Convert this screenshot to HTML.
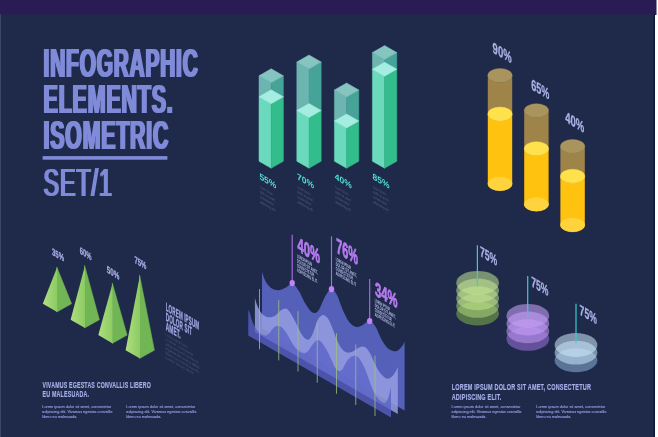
<!DOCTYPE html>
<html lang="en"><head><meta charset="utf-8"><title>Infographic Elements. Isometric Set/1</title>
<style>
html,body{margin:0;padding:0;background:#ffffff;}
body{width:658px;height:437px;overflow:hidden;}
svg{display:block;}
text{font-family:"Liberation Sans",sans-serif;}
.b{font-weight:bold;}
</style></head><body>
<svg width="658" height="437" viewBox="0 0 658 437">
<rect x="0" y="0" width="658" height="437" fill="#ffffff"/>
<rect x="0" y="0" width="656.5" height="15" fill="#2b1b54"/>
<rect x="0" y="14.3" width="655" height="423" fill="#1f2a4a"/>
<rect x="653.6" y="14.3" width="1.4" height="423" fill="#0d1238"/>
<rect x="0" y="14.3" width="1" height="423" fill="#3a4566"/>
<defs><filter id="fat" x="-5%" y="-5%" width="110%" height="110%"><feMorphology operator="dilate" radius="1 0"/></filter></defs>
<g filter="url(#fat)" letter-spacing="1.6">
<text transform="translate(43.60,77.20)" font-size="40.7" class="b" fill="#7f8ad9" textLength="155.00" lengthAdjust="spacingAndGlyphs">INFOGRAPHIC</text>
<text transform="translate(43.60,113.00)" font-size="40.84" class="b" fill="#7f8ad9" textLength="130.00" lengthAdjust="spacingAndGlyphs">ELEMENTS.</text>
<text transform="translate(43.60,148.60)" font-size="40.7" class="b" fill="#7f8ad9" textLength="125.60" lengthAdjust="spacingAndGlyphs">ISOMETRIC</text>
<text transform="translate(43.60,195.80)" font-size="39.68" fill="#7f8ad9" textLength="69.20" lengthAdjust="spacingAndGlyphs">SET/1</text>
</g>
<rect x="42.6" y="156.1" width="124.8" height="3.6" fill="#7f8ad9"/>
<polygon points="259.00,75.80 271.20,82.80 271.20,103.80 259.00,96.80" fill="#6db5b0" stroke="#6db5b0" stroke-width="0.5" stroke-linejoin="round"/>
<polygon points="283.40,75.80 271.20,82.80 271.20,103.80 283.40,96.80" fill="#45a398" stroke="#45a398" stroke-width="0.5" stroke-linejoin="round"/>
<polygon points="271.20,68.80 283.40,75.80 271.20,82.80 259.00,75.80" fill="#86c4c0" stroke="#86c4c0" stroke-width="0.5" stroke-linejoin="round"/>
<polygon points="259.00,96.80 271.20,103.80 271.20,168.20 259.00,161.20" fill="#6ad9bc" stroke="#6ad9bc" stroke-width="0.5" stroke-linejoin="round"/>
<polygon points="283.40,96.80 271.20,103.80 271.20,168.20 283.40,161.20" fill="#33bc8c" stroke="#33bc8c" stroke-width="0.5" stroke-linejoin="round"/>
<polygon points="271.20,89.80 283.40,96.80 271.20,103.80 259.00,96.80" fill="#a5ede0" stroke="#a5ede0" stroke-width="0.5" stroke-linejoin="round"/>
<polygon points="296.80,62.00 309.00,69.00 309.00,117.50 296.80,110.50" fill="#6db5b0" stroke="#6db5b0" stroke-width="0.5" stroke-linejoin="round"/>
<polygon points="321.20,62.00 309.00,69.00 309.00,117.50 321.20,110.50" fill="#45a398" stroke="#45a398" stroke-width="0.5" stroke-linejoin="round"/>
<polygon points="309.00,55.00 321.20,62.00 309.00,69.00 296.80,62.00" fill="#86c4c0" stroke="#86c4c0" stroke-width="0.5" stroke-linejoin="round"/>
<polygon points="296.80,110.50 309.00,117.50 309.00,168.20 296.80,161.20" fill="#6ad9bc" stroke="#6ad9bc" stroke-width="0.5" stroke-linejoin="round"/>
<polygon points="321.20,110.50 309.00,117.50 309.00,168.20 321.20,161.20" fill="#33bc8c" stroke="#33bc8c" stroke-width="0.5" stroke-linejoin="round"/>
<polygon points="309.00,103.50 321.20,110.50 309.00,117.50 296.80,110.50" fill="#a5ede0" stroke="#a5ede0" stroke-width="0.5" stroke-linejoin="round"/>
<polygon points="334.40,90.00 346.60,97.00 346.60,128.00 334.40,121.00" fill="#6db5b0" stroke="#6db5b0" stroke-width="0.5" stroke-linejoin="round"/>
<polygon points="358.80,90.00 346.60,97.00 346.60,128.00 358.80,121.00" fill="#45a398" stroke="#45a398" stroke-width="0.5" stroke-linejoin="round"/>
<polygon points="346.60,83.00 358.80,90.00 346.60,97.00 334.40,90.00" fill="#86c4c0" stroke="#86c4c0" stroke-width="0.5" stroke-linejoin="round"/>
<polygon points="334.40,121.00 346.60,128.00 346.60,168.20 334.40,161.20" fill="#6ad9bc" stroke="#6ad9bc" stroke-width="0.5" stroke-linejoin="round"/>
<polygon points="358.80,121.00 346.60,128.00 346.60,168.20 358.80,161.20" fill="#33bc8c" stroke="#33bc8c" stroke-width="0.5" stroke-linejoin="round"/>
<polygon points="346.60,114.00 358.80,121.00 346.60,128.00 334.40,121.00" fill="#a5ede0" stroke="#a5ede0" stroke-width="0.5" stroke-linejoin="round"/>
<polygon points="372.40,52.60 384.60,59.60 384.60,76.20 372.40,69.20" fill="#6db5b0" stroke="#6db5b0" stroke-width="0.5" stroke-linejoin="round"/>
<polygon points="396.80,52.60 384.60,59.60 384.60,76.20 396.80,69.20" fill="#45a398" stroke="#45a398" stroke-width="0.5" stroke-linejoin="round"/>
<polygon points="384.60,45.60 396.80,52.60 384.60,59.60 372.40,52.60" fill="#86c4c0" stroke="#86c4c0" stroke-width="0.5" stroke-linejoin="round"/>
<polygon points="372.40,69.20 384.60,76.20 384.60,168.20 372.40,161.20" fill="#6ad9bc" stroke="#6ad9bc" stroke-width="0.5" stroke-linejoin="round"/>
<polygon points="396.80,69.20 384.60,76.20 384.60,168.20 396.80,161.20" fill="#33bc8c" stroke="#33bc8c" stroke-width="0.5" stroke-linejoin="round"/>
<polygon points="384.60,62.20 396.80,69.20 384.60,76.20 372.40,69.20" fill="#a5ede0" stroke="#a5ede0" stroke-width="0.5" stroke-linejoin="round"/>
<text transform="matrix(1,0.5774,0,1,259.40,179.00)" font-size="8.8" class="b" fill="#52dcd6" textLength="17.00" lengthAdjust="spacingAndGlyphs">55%</text>
<text transform="matrix(1,0.5774,0,1,259.90,188.00)" font-size="3.6" fill="#56608a" textLength="13.00" lengthAdjust="spacingAndGlyphs">Lorem ipsum</text>
<text transform="matrix(1,0.5774,0,1,259.90,192.90)" font-size="3.6" fill="#56608a" textLength="16.00" lengthAdjust="spacingAndGlyphs">dolor sit amet,</text>
<text transform="matrix(1,0.5774,0,1,259.90,197.80)" font-size="3.6" fill="#56608a" textLength="14.00" lengthAdjust="spacingAndGlyphs">consectetur</text>
<text transform="matrix(1,0.5774,0,1,259.90,202.70)" font-size="3.6" fill="#56608a" textLength="16.00" lengthAdjust="spacingAndGlyphs">adipiscing elit.</text>
<text transform="matrix(1,0.5774,0,1,297.00,179.00)" font-size="8.8" class="b" fill="#52dcd6" textLength="17.00" lengthAdjust="spacingAndGlyphs">70%</text>
<text transform="matrix(1,0.5774,0,1,297.50,188.00)" font-size="3.6" fill="#56608a" textLength="13.00" lengthAdjust="spacingAndGlyphs">Lorem ipsum</text>
<text transform="matrix(1,0.5774,0,1,297.50,192.90)" font-size="3.6" fill="#56608a" textLength="16.00" lengthAdjust="spacingAndGlyphs">dolor sit amet,</text>
<text transform="matrix(1,0.5774,0,1,297.50,197.80)" font-size="3.6" fill="#56608a" textLength="14.00" lengthAdjust="spacingAndGlyphs">consectetur</text>
<text transform="matrix(1,0.5774,0,1,297.50,202.70)" font-size="3.6" fill="#56608a" textLength="16.00" lengthAdjust="spacingAndGlyphs">adipiscing elit.</text>
<text transform="matrix(1,0.5774,0,1,334.80,179.00)" font-size="8.8" class="b" fill="#52dcd6" textLength="17.00" lengthAdjust="spacingAndGlyphs">40%</text>
<text transform="matrix(1,0.5774,0,1,335.30,188.00)" font-size="3.6" fill="#56608a" textLength="13.00" lengthAdjust="spacingAndGlyphs">Lorem ipsum</text>
<text transform="matrix(1,0.5774,0,1,335.30,192.90)" font-size="3.6" fill="#56608a" textLength="16.00" lengthAdjust="spacingAndGlyphs">dolor sit amet,</text>
<text transform="matrix(1,0.5774,0,1,335.30,197.80)" font-size="3.6" fill="#56608a" textLength="14.00" lengthAdjust="spacingAndGlyphs">consectetur</text>
<text transform="matrix(1,0.5774,0,1,335.30,202.70)" font-size="3.6" fill="#56608a" textLength="16.00" lengthAdjust="spacingAndGlyphs">adipiscing elit.</text>
<text transform="matrix(1,0.5774,0,1,372.60,179.00)" font-size="8.8" class="b" fill="#52dcd6" textLength="17.00" lengthAdjust="spacingAndGlyphs">85%</text>
<text transform="matrix(1,0.5774,0,1,373.10,188.00)" font-size="3.6" fill="#56608a" textLength="13.00" lengthAdjust="spacingAndGlyphs">Lorem ipsum</text>
<text transform="matrix(1,0.5774,0,1,373.10,192.90)" font-size="3.6" fill="#56608a" textLength="16.00" lengthAdjust="spacingAndGlyphs">dolor sit amet,</text>
<text transform="matrix(1,0.5774,0,1,373.10,197.80)" font-size="3.6" fill="#56608a" textLength="14.00" lengthAdjust="spacingAndGlyphs">consectetur</text>
<text transform="matrix(1,0.5774,0,1,373.10,202.70)" font-size="3.6" fill="#56608a" textLength="16.00" lengthAdjust="spacingAndGlyphs">adipiscing elit.</text>
<path d="M487.80,75.50 L487.80,115.00 A12.20,6.90 0 0 0 512.20,115.00 L512.20,75.50 A12.20,6.90 0 0 1 487.80,75.50 Z" fill="#9f8449"/>
<ellipse cx="500.00" cy="75.50" rx="12.20" ry="6.90" fill="#a9945e" stroke="#a9945e" stroke-width="0.4"/>
<path d="M487.80,114.00 L487.80,183.80 A12.20,6.90 0 0 0 512.20,183.80 L512.20,114.00 A12.20,6.90 0 0 1 487.80,114.00 Z" fill="#ffc20f"/>
<ellipse cx="500.00" cy="183.80" rx="12.20" ry="6.90" fill="#ffd33e" stroke="#ffd33e" stroke-width="0.3"/>
<ellipse cx="500.00" cy="114.00" rx="12.20" ry="6.90" fill="#ffe14c" stroke="#ffe14c" stroke-width="0.4"/>
<path d="M524.20,110.60 L524.20,149.60 A12.20,6.90 0 0 0 548.60,149.60 L548.60,110.60 A12.20,6.90 0 0 1 524.20,110.60 Z" fill="#9f8449"/>
<ellipse cx="536.40" cy="110.60" rx="12.20" ry="6.90" fill="#a9945e" stroke="#a9945e" stroke-width="0.4"/>
<path d="M524.20,148.60 L524.20,204.30 A12.20,6.90 0 0 0 548.60,204.30 L548.60,148.60 A12.20,6.90 0 0 1 524.20,148.60 Z" fill="#ffc20f"/>
<ellipse cx="536.40" cy="204.30" rx="12.20" ry="6.90" fill="#ffd33e" stroke="#ffd33e" stroke-width="0.3"/>
<ellipse cx="536.40" cy="148.60" rx="12.20" ry="6.90" fill="#ffe14c" stroke="#ffe14c" stroke-width="0.4"/>
<path d="M560.40,146.40 L560.40,177.20 A12.20,6.90 0 0 0 584.80,177.20 L584.80,146.40 A12.20,6.90 0 0 1 560.40,146.40 Z" fill="#9f8449"/>
<ellipse cx="572.60" cy="146.40" rx="12.20" ry="6.90" fill="#a9945e" stroke="#a9945e" stroke-width="0.4"/>
<path d="M560.40,176.20 L560.40,225.00 A12.20,6.90 0 0 0 584.80,225.00 L584.80,176.20 A12.20,6.90 0 0 1 560.40,176.20 Z" fill="#ffc20f"/>
<ellipse cx="572.60" cy="225.00" rx="12.20" ry="6.90" fill="#ffd33e" stroke="#ffd33e" stroke-width="0.3"/>
<ellipse cx="572.60" cy="176.20" rx="12.20" ry="6.90" fill="#ffe14c" stroke="#ffe14c" stroke-width="0.4"/>
<text transform="matrix(1,0.5774,0,1,492.60,52.50)" font-size="15.26" class="b" fill="#aab2e6" textLength="19.00" lengthAdjust="spacingAndGlyphs" stroke="#aab2e6" stroke-width="0.3" stroke-linejoin="round">90%</text>
<text transform="matrix(1,0.5774,0,1,531.20,89.20)" font-size="15.26" class="b" fill="#aab2e6" textLength="18.20" lengthAdjust="spacingAndGlyphs" stroke="#aab2e6" stroke-width="0.3" stroke-linejoin="round">65%</text>
<text transform="matrix(1,0.5774,0,1,565.20,121.80)" font-size="15.26" class="b" fill="#aab2e6" textLength="19.10" lengthAdjust="spacingAndGlyphs" stroke="#aab2e6" stroke-width="0.3" stroke-linejoin="round">40%</text>
<defs><linearGradient id="pyl" x1="0" y1="0" x2="1" y2="0"><stop offset="0" stop-color="#b0de80"/><stop offset="1" stop-color="#8ccb62"/></linearGradient></defs>
<polygon points="56.80,267.00 71.60,303.70 56.80,312.00" fill="#72b554" stroke="#72b554" stroke-width="0.5" stroke-linejoin="round"/>
<polygon points="57.20,267.00 42.80,303.70 57.20,312.00" fill="url(#pyl)"/>
<polygon points="84.60,265.40 99.40,319.70 84.60,328.00" fill="#72b554" stroke="#72b554" stroke-width="0.5" stroke-linejoin="round"/>
<polygon points="85.00,265.40 70.60,319.70 85.00,328.00" fill="url(#pyl)"/>
<polygon points="112.30,283.00 127.10,335.10 112.30,343.40" fill="#72b554" stroke="#72b554" stroke-width="0.5" stroke-linejoin="round"/>
<polygon points="112.70,283.00 98.30,335.10 112.70,343.40" fill="url(#pyl)"/>
<polygon points="139.60,275.00 154.40,350.20 139.60,358.50" fill="#72b554" stroke="#72b554" stroke-width="0.5" stroke-linejoin="round"/>
<polygon points="140.00,275.00 125.60,350.20 140.00,358.50" fill="url(#pyl)"/>
<text transform="matrix(1,0.5774,0,1,52.00,254.70)" font-size="9.88" class="b" fill="#a4ace2" textLength="12.00" lengthAdjust="spacingAndGlyphs" stroke="#a4ace2" stroke-width="0.3" stroke-linejoin="round">35%</text>
<text transform="matrix(1,0.5774,0,1,79.80,253.60)" font-size="9.88" class="b" fill="#a4ace2" textLength="11.80" lengthAdjust="spacingAndGlyphs" stroke="#a4ace2" stroke-width="0.3" stroke-linejoin="round">60%</text>
<text transform="matrix(1,0.5774,0,1,106.80,272.60)" font-size="9.88" class="b" fill="#a4ace2" textLength="12.60" lengthAdjust="spacingAndGlyphs" stroke="#a4ace2" stroke-width="0.3" stroke-linejoin="round">50%</text>
<text transform="matrix(1,0.5774,0,1,134.40,262.80)" font-size="9.88" class="b" fill="#a4ace2" textLength="11.90" lengthAdjust="spacingAndGlyphs" stroke="#a4ace2" stroke-width="0.3" stroke-linejoin="round">75%</text>
<text transform="matrix(1,0.5774,0,1,165.70,310.60)" font-size="11.77" class="b" fill="#a0a8e2" textLength="33.60" lengthAdjust="spacingAndGlyphs" stroke="#a0a8e2" stroke-width="0.35" stroke-linejoin="round" letter-spacing="0.35">LOREM IPSUM</text>
<text transform="matrix(1,0.5774,0,1,165.70,320.40)" font-size="11.77" class="b" fill="#a0a8e2" textLength="26.40" lengthAdjust="spacingAndGlyphs" stroke="#a0a8e2" stroke-width="0.35" stroke-linejoin="round" letter-spacing="0.35">DOLOR SIT</text>
<text transform="matrix(1,0.5774,0,1,165.70,330.10)" font-size="11.77" class="b" fill="#a0a8e2" textLength="15.10" lengthAdjust="spacingAndGlyphs" stroke="#a0a8e2" stroke-width="0.35" stroke-linejoin="round" letter-spacing="0.35">AMET.</text>
<text transform="matrix(1,0.5774,0,1,165.50,335.60)" font-size="3.6" fill="#4c5680" textLength="22.00" lengthAdjust="spacingAndGlyphs">Lorem ipsum dolor</text>
<text transform="matrix(1,0.5774,0,1,165.50,340.15)" font-size="3.6" fill="#4c5680" textLength="28.00" lengthAdjust="spacingAndGlyphs">sit amet, consectetur</text>
<text transform="matrix(1,0.5774,0,1,165.50,344.70)" font-size="3.6" fill="#4c5680" textLength="33.00" lengthAdjust="spacingAndGlyphs">adipiscing elit. Vivamus</text>
<text transform="matrix(1,0.5774,0,1,165.50,349.25)" font-size="3.6" fill="#4c5680" textLength="34.00" lengthAdjust="spacingAndGlyphs">egestas convallis</text>
<text transform="matrix(1,0.5774,0,1,165.50,353.80)" font-size="3.6" fill="#4c5680" textLength="34.00" lengthAdjust="spacingAndGlyphs">libero eu malesuada.</text>
<text transform="matrix(1,0.5774,0,1,165.50,358.35)" font-size="3.6" fill="#4c5680" textLength="29.00" lengthAdjust="spacingAndGlyphs">Lorem ipsum dolor.</text>
<text transform="translate(42.50,388.20)" font-size="9.3" class="b" fill="#a6aee8" textLength="108.50" lengthAdjust="spacingAndGlyphs" stroke="#a6aee8" stroke-width="0.2" stroke-linejoin="round" letter-spacing="0.35">VIVAMUS EGESTAS CONVALLIS LIBERO</text>
<text transform="translate(42.50,397.40)" font-size="9.3" class="b" fill="#a6aee8" textLength="46.70" lengthAdjust="spacingAndGlyphs" stroke="#a6aee8" stroke-width="0.2" stroke-linejoin="round" letter-spacing="0.35">EU MALESUADA.</text>
<text transform="translate(42.30,407.50)" font-size="4.0" fill="#959ce0" textLength="68.95" lengthAdjust="spacingAndGlyphs" stroke="#959ce0" stroke-width="0.12">Lorem ipsum dolor sit amet, consectetur</text>
<text transform="translate(42.30,412.70)" font-size="4.0" fill="#959ce0" textLength="70.00" lengthAdjust="spacingAndGlyphs" stroke="#959ce0" stroke-width="0.12">adipiscing elit. Vivamus egestas convallis</text>
<text transform="translate(42.30,417.90)" font-size="4.0" fill="#959ce0" textLength="35.00" lengthAdjust="spacingAndGlyphs" stroke="#959ce0" stroke-width="0.12">libero eu malesuada.</text>
<text transform="translate(126.30,407.50)" font-size="4.0" fill="#959ce0" textLength="68.95" lengthAdjust="spacingAndGlyphs" stroke="#959ce0" stroke-width="0.12">Lorem ipsum dolor sit amet, consectetur</text>
<text transform="translate(126.30,412.70)" font-size="4.0" fill="#959ce0" textLength="70.00" lengthAdjust="spacingAndGlyphs" stroke="#959ce0" stroke-width="0.12">adipiscing elit. Vivamus egestas convallis</text>
<text transform="translate(126.30,417.90)" font-size="4.0" fill="#959ce0" textLength="35.00" lengthAdjust="spacingAndGlyphs" stroke="#959ce0" stroke-width="0.12">libero eu malesuada.</text>
<text transform="translate(451.70,389.90)" font-size="9.45" class="b" fill="#a6aee8" textLength="139.40" lengthAdjust="spacingAndGlyphs" stroke="#a6aee8" stroke-width="0.2" stroke-linejoin="round" letter-spacing="0.35">LOREM IPSUM DOLOR SIT AMET, CONSECTETUR</text>
<text transform="translate(451.70,399.50)" font-size="9.45" class="b" fill="#a6aee8" textLength="49.70" lengthAdjust="spacingAndGlyphs" stroke="#a6aee8" stroke-width="0.2" stroke-linejoin="round" letter-spacing="0.35">ADIPISCING ELIT.</text>
<text transform="translate(451.50,407.50)" font-size="4.0" fill="#959ce0" textLength="68.95" lengthAdjust="spacingAndGlyphs" stroke="#959ce0" stroke-width="0.12">Lorem ipsum dolor sit amet, consectetur</text>
<text transform="translate(451.50,412.70)" font-size="4.0" fill="#959ce0" textLength="70.00" lengthAdjust="spacingAndGlyphs" stroke="#959ce0" stroke-width="0.12">adipiscing elit. Vivamus egestas convallis</text>
<text transform="translate(451.50,417.90)" font-size="4.0" fill="#959ce0" textLength="35.00" lengthAdjust="spacingAndGlyphs" stroke="#959ce0" stroke-width="0.12">libero eu malesuada.</text>
<text transform="translate(536.30,407.50)" font-size="4.0" fill="#959ce0" textLength="68.95" lengthAdjust="spacingAndGlyphs" stroke="#959ce0" stroke-width="0.12">Lorem ipsum dolor sit amet, consectetur</text>
<text transform="translate(536.30,412.70)" font-size="4.0" fill="#959ce0" textLength="70.00" lengthAdjust="spacingAndGlyphs" stroke="#959ce0" stroke-width="0.12">adipiscing elit. Vivamus egestas convallis</text>
<text transform="translate(536.30,417.90)" font-size="4.0" fill="#959ce0" textLength="35.00" lengthAdjust="spacingAndGlyphs" stroke="#959ce0" stroke-width="0.12">libero eu malesuada.</text>
<path d="M262.00,271.90 C262.67,273.58 264.33,279.22 266.00,282.00 C267.67,284.78 269.87,287.23 272.00,288.60 C274.13,289.97 276.45,290.38 278.80,290.20 C281.15,290.02 283.82,288.63 286.10,287.50 C288.38,286.37 290.37,282.80 292.50,283.40 C294.63,284.00 296.92,287.98 298.90,291.10 C300.88,294.22 302.57,298.90 304.40,302.10 C306.23,305.30 308.22,308.47 309.90,310.30 C311.58,312.13 312.97,313.25 314.50,313.10 C316.03,312.95 317.42,312.00 319.10,309.40 C320.78,306.80 322.62,300.90 324.60,297.50 C326.58,294.10 328.98,289.48 331.00,289.00 C333.02,288.52 334.78,291.23 336.70,294.60 C338.62,297.97 340.57,304.83 342.50,309.20 C344.43,313.57 346.35,317.95 348.30,320.80 C350.25,323.65 352.42,325.32 354.20,326.30 C355.98,327.28 357.38,327.03 359.00,326.70 C360.62,326.37 362.15,325.32 363.90,324.30 C365.65,323.28 367.55,320.20 369.50,320.60 C371.45,321.00 373.62,323.58 375.60,326.70 C377.58,329.82 379.47,335.80 381.40,339.30 C383.33,342.80 385.25,345.75 387.20,347.70 C389.15,349.65 391.32,350.55 393.10,351.00 C394.88,351.45 396.28,351.37 397.90,350.40 C399.52,349.43 401.68,346.68 402.80,345.20 C403.92,343.72 404.30,342.12 404.60,341.50 L404.60,410.45 L262.00,328.60 Z" fill="#5560b8"/>
<path d="M254.90,297.70 C255.23,298.85 256.00,302.30 256.90,304.60 C257.80,306.90 259.17,309.72 260.30,311.50 C261.43,313.28 262.45,314.35 263.70,315.30 C264.95,316.25 266.42,316.92 267.80,317.20 C269.18,317.48 270.62,317.38 272.00,317.00 C273.38,316.62 274.73,315.93 276.10,314.90 C277.47,313.87 278.83,311.83 280.20,310.80 C281.57,309.77 283.15,308.98 284.30,308.70 C285.45,308.42 285.95,308.18 287.10,309.10 C288.25,310.02 289.83,312.08 291.20,314.20 C292.57,316.32 293.93,319.12 295.30,321.80 C296.67,324.48 298.08,327.83 299.40,330.30 C300.72,332.77 301.90,335.02 303.20,336.60 C304.50,338.18 306.00,339.57 307.20,339.80 C308.40,340.03 309.33,339.40 310.40,338.00 C311.47,336.60 312.67,333.70 313.60,331.40 C314.53,329.10 315.07,326.50 316.00,324.20 C316.93,321.90 318.00,319.15 319.20,317.60 C320.40,316.05 321.87,314.90 323.20,314.90 C324.53,314.90 326.00,316.22 327.20,317.60 C328.40,318.98 329.33,320.93 330.40,323.20 C331.47,325.47 332.40,328.13 333.60,331.20 C334.80,334.27 336.27,338.70 337.60,341.60 C338.93,344.50 340.25,346.85 341.60,348.60 C342.95,350.35 344.35,351.43 345.70,352.10 C347.05,352.77 348.23,352.87 349.70,352.60 C351.17,352.33 353.05,351.30 354.50,350.50 C355.95,349.70 357.15,348.48 358.40,347.80 C359.65,347.12 360.73,346.42 362.00,346.40 C363.27,346.38 364.63,346.52 366.00,347.70 C367.37,348.88 368.70,350.78 370.20,353.50 C371.70,356.22 373.40,360.82 375.00,364.00 C376.60,367.18 378.18,370.37 379.80,372.60 C381.42,374.83 383.22,376.40 384.70,377.40 C386.18,378.40 387.37,378.87 388.70,378.60 C390.03,378.33 391.45,377.17 392.70,375.80 C393.95,374.43 395.35,371.87 396.20,370.40 C397.05,368.93 397.53,367.57 397.80,367.00 L397.80,413.92 L254.90,331.90 Z" fill="#969ee1" fill-opacity="0.85"/>
<path d="M248.30,309.70 C248.58,310.33 249.38,311.70 250.00,313.50 C250.62,315.30 251.08,318.08 252.00,320.50 C252.92,322.92 254.23,325.95 255.50,328.00 C256.77,330.05 258.23,331.60 259.60,332.80 C260.97,334.00 262.55,334.75 263.70,335.20 C264.85,335.65 265.58,335.80 266.50,335.50 C267.42,335.20 268.28,334.38 269.20,333.40 C270.12,332.42 270.97,330.73 272.00,329.60 C273.03,328.47 274.38,327.22 275.40,326.60 C276.42,325.98 277.07,325.78 278.10,325.90 C279.13,326.02 280.33,326.27 281.60,327.30 C282.87,328.33 284.33,330.17 285.70,332.10 C287.07,334.03 288.43,336.62 289.80,338.90 C291.17,341.18 292.52,343.85 293.90,345.80 C295.28,347.75 296.83,349.43 298.10,350.60 C299.37,351.77 300.38,352.37 301.50,352.80 C302.62,353.23 303.63,353.58 304.80,353.20 C305.97,352.82 307.13,352.03 308.50,350.50 C309.87,348.97 311.48,345.75 313.00,344.00 C314.52,342.25 316.18,340.30 317.60,340.00 C319.02,339.70 320.17,340.87 321.50,342.20 C322.83,343.53 324.35,345.95 325.60,348.00 C326.85,350.05 327.93,352.35 329.00,354.50 C330.07,356.65 331.00,358.73 332.00,360.90 C333.00,363.07 333.83,365.82 335.00,367.50 C336.17,369.18 337.80,370.68 339.00,371.00 C340.20,371.32 341.00,370.87 342.20,369.40 C343.40,367.93 344.87,364.20 346.20,362.20 C347.53,360.20 348.87,358.47 350.20,357.40 C351.53,356.33 352.87,355.80 354.20,355.80 C355.53,355.80 356.87,356.20 358.20,357.40 C359.53,358.60 360.87,360.60 362.20,363.00 C363.53,365.40 364.87,368.47 366.20,371.80 C367.53,375.13 368.87,379.52 370.20,383.00 C371.53,386.48 372.87,390.03 374.20,392.70 C375.53,395.37 376.90,397.45 378.20,399.00 C379.50,400.55 380.87,401.37 382.00,402.00 C383.13,402.63 384.02,403.38 385.00,402.80 C385.98,402.22 387.07,400.38 387.90,398.50 C388.73,396.62 389.48,393.45 390.00,391.50 C390.52,389.55 390.83,387.58 391.00,386.80 L391.00,417.41 L248.30,335.50 Z" fill="#5862c7" fill-opacity="0.77"/>
<line x1="259.50" y1="289.00" x2="259.50" y2="349.20" stroke="#9cc07c" stroke-width="0.8"/>
<line x1="278.75" y1="300.10" x2="278.75" y2="360.35" stroke="#9cc07c" stroke-width="0.8"/>
<line x1="298.00" y1="311.20" x2="298.00" y2="371.50" stroke="#9cc07c" stroke-width="0.8"/>
<line x1="317.25" y1="322.30" x2="317.25" y2="382.65" stroke="#9cc07c" stroke-width="0.8"/>
<line x1="336.50" y1="333.40" x2="336.50" y2="393.80" stroke="#9cc07c" stroke-width="0.8"/>
<line x1="355.75" y1="344.50" x2="355.75" y2="404.95" stroke="#9cc07c" stroke-width="0.8"/>
<line x1="375.00" y1="355.60" x2="375.00" y2="416.10" stroke="#9cc07c" stroke-width="0.8"/>
<line x1="292.20" y1="234.80" x2="292.20" y2="283.00" stroke="#a96be3" stroke-width="1.15"/>
<ellipse cx="292.20" cy="283.00" rx="2.70" ry="3.10" fill="#c183f7"/>
<line x1="331.50" y1="236.40" x2="331.50" y2="289.20" stroke="#a96be3" stroke-width="1.15"/>
<ellipse cx="331.50" cy="289.20" rx="2.70" ry="3.10" fill="#c183f7"/>
<line x1="369.70" y1="279.00" x2="369.70" y2="321.00" stroke="#a96be3" stroke-width="1.15"/>
<ellipse cx="369.70" cy="321.00" rx="2.70" ry="3.10" fill="#c183f7"/>
<text transform="matrix(1,0.5774,0,1,297.40,250.80)" font-size="19.77" class="b" fill="#b47cf0" textLength="22.50" lengthAdjust="spacingAndGlyphs" stroke="#b47cf0" stroke-width="0.8" stroke-linejoin="round">40%</text>
<text transform="matrix(1,0.5774,0,1,297.00,257.60)" font-size="5.2" class="b" fill="#b8c0ea" textLength="15.00" lengthAdjust="spacingAndGlyphs">LOREM IPSUM</text>
<text transform="matrix(1,0.5774,0,1,297.00,262.25)" font-size="5.2" class="b" fill="#b8c0ea" textLength="21.00" lengthAdjust="spacingAndGlyphs">DOLOR SIT AMET,</text>
<text transform="matrix(1,0.5774,0,1,297.00,266.90)" font-size="5.2" class="b" fill="#b8c0ea" textLength="17.00" lengthAdjust="spacingAndGlyphs">CONSECTETUR</text>
<text transform="matrix(1,0.5774,0,1,297.00,271.55)" font-size="5.2" class="b" fill="#b8c0ea" textLength="20.50" lengthAdjust="spacingAndGlyphs">ADIPISCING ELIT.</text>
<text transform="matrix(1,0.5774,0,1,336.20,252.60)" font-size="21.22" class="b" fill="#b47cf0" textLength="21.80" lengthAdjust="spacingAndGlyphs" stroke="#b47cf0" stroke-width="0.8" stroke-linejoin="round">76%</text>
<text transform="matrix(1,0.5774,0,1,335.80,260.80)" font-size="5.2" class="b" fill="#b8c0ea" textLength="15.00" lengthAdjust="spacingAndGlyphs">LOREM IPSUM</text>
<text transform="matrix(1,0.5774,0,1,335.80,265.45)" font-size="5.2" class="b" fill="#b8c0ea" textLength="21.00" lengthAdjust="spacingAndGlyphs">DOLOR SIT AMET,</text>
<text transform="matrix(1,0.5774,0,1,335.80,270.10)" font-size="5.2" class="b" fill="#b8c0ea" textLength="17.00" lengthAdjust="spacingAndGlyphs">CONSECTETUR</text>
<text transform="matrix(1,0.5774,0,1,335.80,274.75)" font-size="5.2" class="b" fill="#b8c0ea" textLength="20.50" lengthAdjust="spacingAndGlyphs">ADIPISCING ELIT.</text>
<text transform="matrix(1,0.5774,0,1,375.10,295.20)" font-size="19.77" class="b" fill="#b47cf0" textLength="22.50" lengthAdjust="spacingAndGlyphs" stroke="#b47cf0" stroke-width="0.8" stroke-linejoin="round">34%</text>
<text transform="matrix(1,0.5774,0,1,374.70,302.00)" font-size="5.2" class="b" fill="#b8c0ea" textLength="15.00" lengthAdjust="spacingAndGlyphs">LOREM IPSUM</text>
<text transform="matrix(1,0.5774,0,1,374.70,306.65)" font-size="5.2" class="b" fill="#b8c0ea" textLength="21.00" lengthAdjust="spacingAndGlyphs">DOLOR SIT AMET,</text>
<text transform="matrix(1,0.5774,0,1,374.70,311.30)" font-size="5.2" class="b" fill="#b8c0ea" textLength="17.00" lengthAdjust="spacingAndGlyphs">CONSECTETUR</text>
<text transform="matrix(1,0.5774,0,1,374.70,315.95)" font-size="5.2" class="b" fill="#b8c0ea" textLength="20.50" lengthAdjust="spacingAndGlyphs">ADIPISCING ELIT.</text>
<ellipse cx="477.60" cy="313.50" rx="21.40" ry="11.95" fill="#84b04a" fill-opacity="0.55"/>
<ellipse cx="477.60" cy="305.85" rx="21.40" ry="11.95" fill="#add479" fill-opacity="0.55"/>
<ellipse cx="477.60" cy="298.20" rx="21.40" ry="11.95" fill="#bee38d" fill-opacity="0.55"/>
<ellipse cx="477.60" cy="290.55" rx="21.40" ry="11.95" fill="#c4e893" fill-opacity="0.55"/>
<ellipse cx="477.60" cy="282.90" rx="21.40" ry="11.95" fill="#c4e894" fill-opacity="0.55"/>
<ellipse cx="527.80" cy="338.85" rx="21.40" ry="11.95" fill="#966ed7" fill-opacity="0.58"/>
<ellipse cx="527.80" cy="331.20" rx="21.40" ry="11.95" fill="#bc94f2" fill-opacity="0.58"/>
<ellipse cx="527.80" cy="323.55" rx="21.40" ry="11.95" fill="#c79ff9" fill-opacity="0.58"/>
<ellipse cx="527.80" cy="315.90" rx="21.40" ry="11.95" fill="#c8a0fa" fill-opacity="0.58"/>
<ellipse cx="576.00" cy="360.30" rx="21.40" ry="11.95" fill="#8cafd7" fill-opacity="0.55"/>
<ellipse cx="576.00" cy="352.65" rx="21.40" ry="11.95" fill="#c7e5f9" fill-opacity="0.55"/>
<ellipse cx="576.00" cy="345.00" rx="21.40" ry="11.95" fill="#cdeafc" fill-opacity="0.55"/>
<line x1="477.40" y1="245.30" x2="477.40" y2="286.60" stroke="#38cccf" stroke-width="1.2"/>
<line x1="527.70" y1="276.00" x2="527.70" y2="317.00" stroke="#38cccf" stroke-width="1.2"/>
<line x1="576.00" y1="303.70" x2="576.00" y2="343.20" stroke="#38cccf" stroke-width="1.2"/>
<text transform="matrix(1,0.5774,0,1,480.00,256.00)" font-size="14.53" class="b" fill="#aab2e6" textLength="17.20" lengthAdjust="spacingAndGlyphs" stroke="#aab2e6" stroke-width="0.3" stroke-linejoin="round">75%</text>
<text transform="matrix(1,0.5774,0,1,531.20,286.20)" font-size="14.53" class="b" fill="#aab2e6" textLength="17.20" lengthAdjust="spacingAndGlyphs" stroke="#aab2e6" stroke-width="0.3" stroke-linejoin="round">75%</text>
<text transform="matrix(1,0.5774,0,1,579.60,314.60)" font-size="14.53" class="b" fill="#aab2e6" textLength="17.20" lengthAdjust="spacingAndGlyphs" stroke="#aab2e6" stroke-width="0.3" stroke-linejoin="round">75%</text>
</svg></body></html>
